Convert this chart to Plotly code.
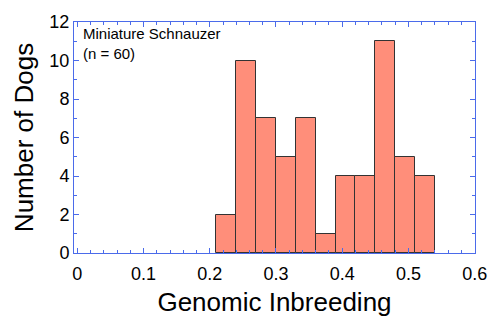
import plotly.graph_objects as go

bin_left = [0.21, 0.24, 0.27, 0.30, 0.33, 0.36, 0.39, 0.42, 0.45, 0.48, 0.51]
counts = [2, 10, 7, 5, 7, 1, 4, 4, 11, 5, 4]
bin_width = 0.03
centers = [b + bin_width / 2 for b in bin_left]
x_ticks = [0, 0.1, 0.2, 0.3, 0.4, 0.5, 0.6]
x_tick_labels = ["0", "0.1", "0.2", "0.3", "0.4", "0.5", "0.6"]

axis_blue = "#4B6BEA"
font_family = "Liberation Sans, Arial, Helvetica, sans-serif"

fig = go.Figure()
fig.add_trace(go.Bar(
    x=centers, y=counts, width=[bin_width] * len(counts),
    marker=dict(color="#FF8E7A", line=dict(color="#333333", width=1)),
    showlegend=False,
))

fig.update_layout(
    width=499, height=324,
    margin=dict(l=74, r=16, t=15, b=67),
    paper_bgcolor="white", plot_bgcolor="white",
    font=dict(family=font_family, color="black"),
    bargap=0,
)
fig.update_xaxes(
    range=[-0.005, 0.6005], tickmode="array", tickvals=x_ticks, ticktext=x_tick_labels,
    tickangle=0,
    ticks="inside", ticklen=5, tickcolor=axis_blue, tickwidth=1,
    minor=dict(tick0=0, dtick=0.02, ticks="inside", ticklen=3, tickcolor=axis_blue),
    showline=True, linecolor=axis_blue, linewidth=1, mirror="ticks",
    showgrid=False, zeroline=False,
    tickfont=dict(size=18),
    title=dict(text="Genomic Inbreeding", font=dict(size=26), standoff=10),
    ticklabelstandoff=4,
)
fig.update_yaxes(
    range=[0, 12], tick0=0, dtick=2,
    ticks="inside", ticklen=5, tickcolor=axis_blue, tickwidth=1,
    minor=dict(dtick=1, ticks="inside", ticklen=3, tickcolor=axis_blue),
    showline=True, linecolor=axis_blue, linewidth=1, mirror="ticks",
    showgrid=False, zeroline=False,
    tickfont=dict(size=18),
    title=dict(text="Number of Dogs", font=dict(size=26), standoff=8),
)
fig.add_annotation(
    xref="paper", yref="paper", x=0.018, y=0.995, xanchor="left", yanchor="top",
    text="Miniature Schnauzer<br>(n = 60)", showarrow=False, align="left",
    font=dict(size=15, family=font_family, color="black"),
)
fig.write_html("out.html")
